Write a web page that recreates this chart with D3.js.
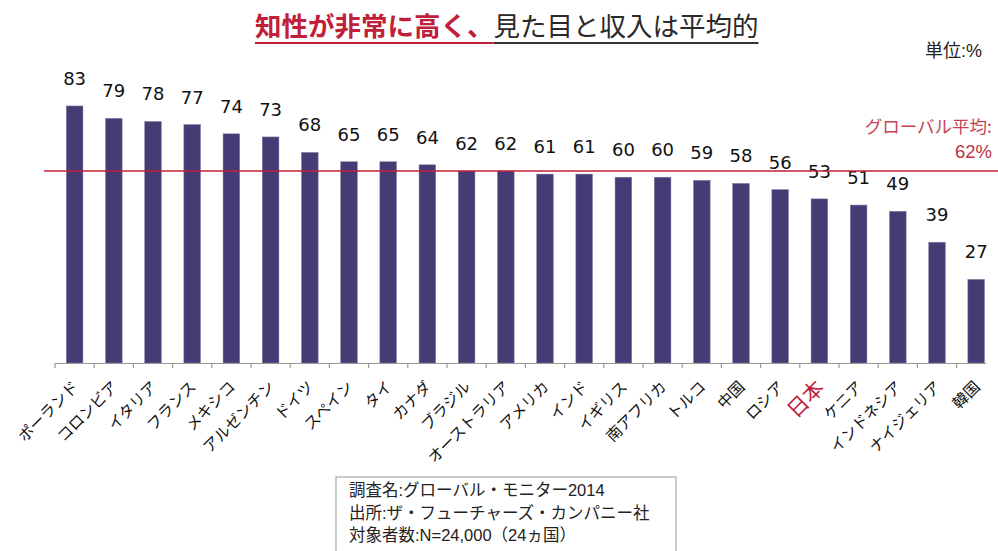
<!DOCTYPE html>
<html><head><meta charset="utf-8">
<script src="https://cdn.jsdelivr.net/npm/d3@7"></script>
<style>body{margin:0;background:#fff;}svg{display:block;}</style>
</head><body>
<svg id="c" width="998" height="551"></svg>
<script>
const countries = ["ポーランド","コロンビア","イタリア","フランス","メキシコ","アルゼンチン","ドイツ","スペイン","タイ","カナダ","ブラジル","オーストラリア","アメリカ","インド","イギリス","南アフリカ","トルコ","中国","ロシア","日本","ケニア","インドネシア","ナイジェリア","韓国"];
const values = [83,79,78,77,74,73,68,65,65,64,62,62,61,61,60,60,59,58,56,53,51,49,39,27];
const globalAvg = 62;
const highlight = "日本";
const titleRed = "知性が非常に高く、";
const titleDark = "見た目と収入は平均的";
const unitLabel = "単位:%";
const avgLabel = ["グローバル平均:", "62%"];
const sourceLines = ["調査名:グローバル・モニター2014","出所:ザ・フューチャーズ・カンパニー社","対象者数:N=24,000（24ヵ国）"];

const svg = d3.select("#c");
const jp = "'Noto Sans CJK JP','Noto Sans',sans-serif";
const mixed = "'Liberation Sans','Noto Sans CJK JP',sans-serif";
const left = 55, right = 995.8, axisEnd = 986, base = 363, top0 = 53.3;
const x = d3.scaleBand().domain(countries).range([left, right]).paddingInner(0.574).paddingOuter(0.287);
const y = d3.scaleLinear().domain([0, 100]).range([base, top0]);

// title
const t = svg.append("text").attr("x", 255).attr("y", 36).attr("font-family", jp).attr("font-size", 26.5);
t.append("tspan").text(titleRed).attr("fill", "#c0203a").attr("font-weight", 700);
t.append("tspan").text(titleDark).attr("fill", "#2a2a2a");
const tb = t.node().getBBox();
const redW = t.select("tspan").node().getComputedTextLength();
svg.append("line").attr("x1", tb.x).attr("x2", tb.x + redW).attr("y1", 43).attr("y2", 43).attr("stroke", "#c0203a").attr("stroke-width", 2);
svg.append("line").attr("x1", tb.x + redW).attr("x2", tb.x + tb.width).attr("y1", 43).attr("y2", 43).attr("stroke", "#333").attr("stroke-width", 2);

svg.append("text").attr("x", 982).attr("y", 57).attr("text-anchor", "end").attr("font-family", mixed).attr("font-size", 18).attr("fill", "#222").text(unitLabel);

// bars
svg.selectAll("rect.bar").data(values).join("rect").attr("class", "bar")
  .attr("x", (d, i) => x(countries[i])).attr("width", x.bandwidth())
  .attr("y", d => y(d)).attr("height", d => base - y(d))
  .attr("fill", "#463b75").attr("stroke", "#8a84aa").attr("stroke-width", 0.5);

// value labels
svg.selectAll("text.val").data(values).join("text").attr("class", "val")
  .attr("x", (d, i) => x(countries[i]) + x.bandwidth() / 2)
  .attr("y", d => y(d) - 21)
  .attr("text-anchor", "middle").attr("font-family", "'DejaVu Sans',Verdana,sans-serif").attr("font-size", 18).attr("fill", "#111")
  .text(d => d);

// average line
svg.append("line").attr("x1", 44).attr("x2", 998).attr("y1", y(globalAvg)).attr("y2", y(globalAvg)).attr("stroke", "#c0203a").attr("stroke-width", 1.5);
svg.append("text").attr("x", 992).attr("y", 133).attr("text-anchor", "end").attr("font-family", jp).attr("font-size", 17.5).attr("fill", "#c44455").text(avgLabel[0]);
svg.append("text").attr("x", 992).attr("y", 158).attr("text-anchor", "end").attr("font-family", "'Liberation Sans',Arial,sans-serif").attr("font-size", 18.5).attr("fill", "#c03040").text(avgLabel[1]);

// axis
svg.append("line").attr("x1", left).attr("x2", axisEnd).attr("y1", base + 0.5).attr("y2", base + 0.5).attr("stroke", "#999").attr("stroke-width", 1.2);
const tickPos = countries.map(c => x(c) - x.step() * x.paddingOuter());
svg.selectAll("line.tick").data(tickPos).join("line").attr("class", "tick")
  .attr("x1", d => d).attr("x2", d => d).attr("y1", base).attr("y2", base + 5).attr("stroke", "#999").attr("stroke-width", 1.2);

// category labels
svg.selectAll("text.cat").data(countries).join("text").attr("class", "cat")
  .attr("transform", d => `translate(${x(d) + x.bandwidth() / 2 + 1},${base + 21}) rotate(-45)`)
  .attr("text-anchor", "end").attr("dy", "0.35em")
  .attr("font-family", jp)
  .attr("font-size", d => d === highlight ? 21 : 15.5)
  .attr("fill", d => d === highlight ? "#c0203a" : "#111")
  .text(d => d);

// source box
svg.append("rect").attr("x", 336).attr("y", 477).attr("width", 340).attr("height", 80).attr("fill", "#fff").attr("stroke", "#aaa").attr("stroke-width", 1.2);
svg.selectAll("text.src").data(sourceLines).join("text").attr("class", "src")
  .attr("x", 349).attr("y", (d, i) => 496 + i * 22.5)
  .attr("font-family", mixed).attr("font-size", 16.5).attr("fill", "#222").text(d => d);
</script>
</body></html>
